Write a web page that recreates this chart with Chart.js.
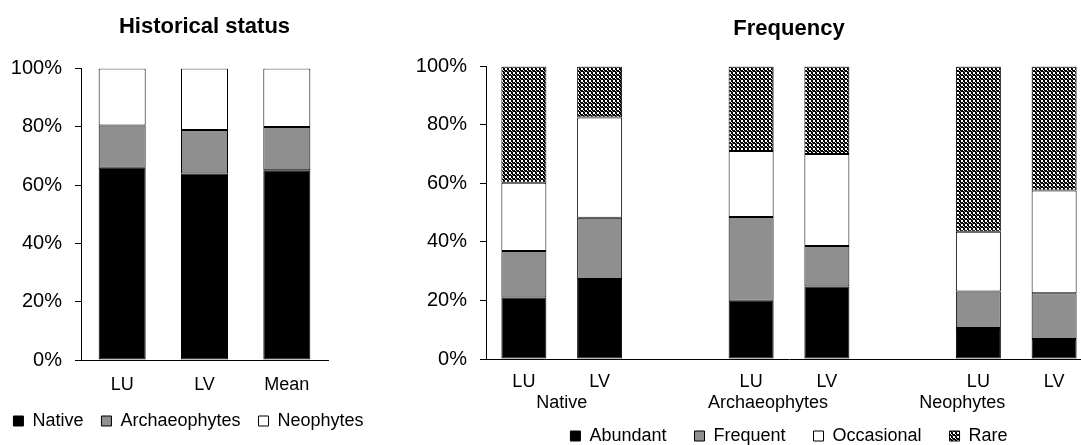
<!DOCTYPE html>
<html><head><meta charset="utf-8">
<script src="https://cdn.jsdelivr.net/npm/chart.js@4/dist/chart.umd.min.js"></script>
<style>
html,body{margin:0;padding:0;background:#fff;overflow:hidden;width:1081px;height:445px;position:relative;}
#wrapL{position:absolute;left:-20px;top:0;width:417px;height:445px;}
#wrapR{position:absolute;left:377px;top:0;width:715px;height:455px;}
canvas{display:block;}
</style></head><body>
<div id="wrapL"><canvas id="cL" width="417" height="445"></canvas></div>
<div id="wrapR"><canvas id="cR" width="715" height="455"></canvas></div>
<script>
// ---- Data ----
const statusCategories = ['LU', 'LV', 'Mean'];
const nativeShare = [65.9, 64.0, 65.1];
const archaeophyteShare = [14.5, 14.9, 14.8];
const neophyteShare = [19.6, 21.1, 20.1];

const freqCategories = ['LU', 'LV', '', 'LU', 'LV', '', 'LU', 'LV'];
const freqGroups = ['Native', 'Archaeophytes', 'Neophytes'];
const abundant   = [21.0, 27.3, null, 19.9, 24.8, null, 10.6, 6.8];
const frequent   = [15.9, 21.0, null, 28.6, 13.8, null, 12.5, 15.7];
const occasional = [23.3, 34.2, null, 22.6, 31.5, null, 20.4, 35.1];
const rare       = [39.8, 17.5, null, 28.9, 29.9, null, 56.5, 42.4];

const yTickValues = [0, 20, 40, 60, 80, 100];
const yTickLabels = ['0%', '20%', '40%', '60%', '80%', '100%'];

// ---- Styles ----
const FONT = '"Liberation Sans", Arial, Helvetica, sans-serif';
const GREY = '#8f8f8f';
Chart.defaults.font.family = FONT;
Chart.defaults.color = '#000';

function makeRarePattern() {
  const t = document.createElement('canvas');
  t.width = 4; t.height = 4;
  const c = t.getContext('2d');
  c.fillStyle = '#000'; c.fillRect(0, 0, 4, 4);
  c.fillStyle = '#fff';
  c.fillRect(0, 0, 2, 2);
  c.fillRect(2, 2, 1, 1);
  c.fillStyle = '#888';
  c.fillRect(3, 3, 1, 1);
  return c.createPattern(t, 'repeat');
}
const RARE = makeRarePattern();

function yScale(width) {
  return {
    stacked: true, min: 0, max: 100,
    afterFit: s => { s.width = width; },
    afterBuildTicks: s => { s.ticks = yTickValues.map(v => ({ value: v })); },
    ticks: { padding: 13, font: { size: 20 }, color: '#000',
      callback: v => yTickLabels[yTickValues.indexOf(v)] },
    grid: { display: true, drawOnChartArea: false, drawTicks: true, tickLength: 6, color: '#000', tickColor: '#000' },
    border: { display: true, color: '#000', width: 1 }
  };
}
function spacerScale(width) {
  return {
    position: 'right', display: true, min: 0, max: 100,
    afterFit: s => { s.width = width; },
    ticks: { display: false },
    grid: { display: false, drawTicks: false },
    border: { display: false }
  };
}
function xScale(height, pad) {
  return {
    stacked: true,
    afterFit: s => { s.height = height; },
    ticks: { padding: pad, font: { size: 18 }, color: '#000', maxRotation: 0, autoSkip: false },
    grid: { display: false, drawTicks: false },
    border: { display: true, color: '#000', width: 1 }
  };
}
function bar(label, data, color, pct) {
  return { label, data, backgroundColor: color, borderColor: '#000', borderWidth: 1,
    barPercentage: pct, categoryPercentage: 1.0, borderSkipped: false, yAxisID: 'y' };
}

// ---- Left chart: Historical status ----
new Chart(document.getElementById('cL'), {
  type: 'bar',
  data: {
    labels: statusCategories,
    datasets: [
      bar('Native', nativeShare, '#000', 0.571),
      bar('Archaeophytes', archaeophyteShare, GREY, 0.571),
      bar('Neophytes', neophyteShare, '#fff', 0.571)
    ]
  },
  options: {
    responsive: false, animation: false,
    layout: { padding: { left: 0, right: 0, top: 0, bottom: 5 } },
    scales: { x: xScale(34, 14), y: yScale(101), ySpacer: spacerScale(69) },
    plugins: {
      tooltip: { enabled: false },
      title: { display: true, text: 'Historical status', fullSize: false,
        font: { size: 22, weight: 'bold' }, color: '#000', padding: { top: 14, bottom: 28 } },
      legend: { position: 'bottom', fullSize: true,
        labels: { boxWidth: 10, boxHeight: 10, padding: 18, font: { size: 18 }, color: '#000' } }
    }
  }
});

// ---- Right chart: Frequency ----
const groupLabelPlugin = {
  id: 'groupLabels',
  afterDraw(chart, args, opts) {
    const x = chart.scales.x, ctx = chart.ctx;
    ctx.save();
    ctx.font = '18px ' + FONT;
    ctx.fillStyle = '#000';
    ctx.textAlign = 'center';
    ctx.textBaseline = 'alphabetic';
    opts.groups.forEach((g, i) => {
      const a = x.getPixelForValue(i * 3), b = x.getPixelForValue(i * 3 + 1);
      ctx.fillText(g, (a + b) / 2 + (opts.nudge[i] || 0), x.top + opts.offset);
    });
    ctx.restore();
  }
};

new Chart(document.getElementById('cR'), {
  type: 'bar',
  data: {
    labels: freqCategories,
    datasets: [
      bar('Abundant', abundant, '#000', 0.594),
      bar('Frequent', frequent, GREY, 0.594),
      bar('Occasional', occasional, '#fff', 0.594),
      bar('Rare', rare, RARE, 0.594)
    ]
  },
  options: {
    responsive: false, animation: false,
    layout: { padding: { left: 0, right: 0, top: 0, bottom: 0 } },
    scales: { x: xScale(40, 12), y: yScale(109) },
    plugins: {
      tooltip: { enabled: false },
      title: { display: true, text: 'Frequency', fullSize: false,
        font: { size: 22, weight: 'bold' }, color: '#000', padding: { top: 16, bottom: 24 } },
      legend: { position: 'bottom', fullSize: false,
        labels: { boxWidth: 10, boxHeight: 10, padding: 28, font: { size: 18 }, color: '#000' } },
      groupLabels: { groups: freqGroups, nudge: [0, -21, -54], offset: 49 }
    }
  },
  plugins: [groupLabelPlugin]
});
</script>
</body></html>
